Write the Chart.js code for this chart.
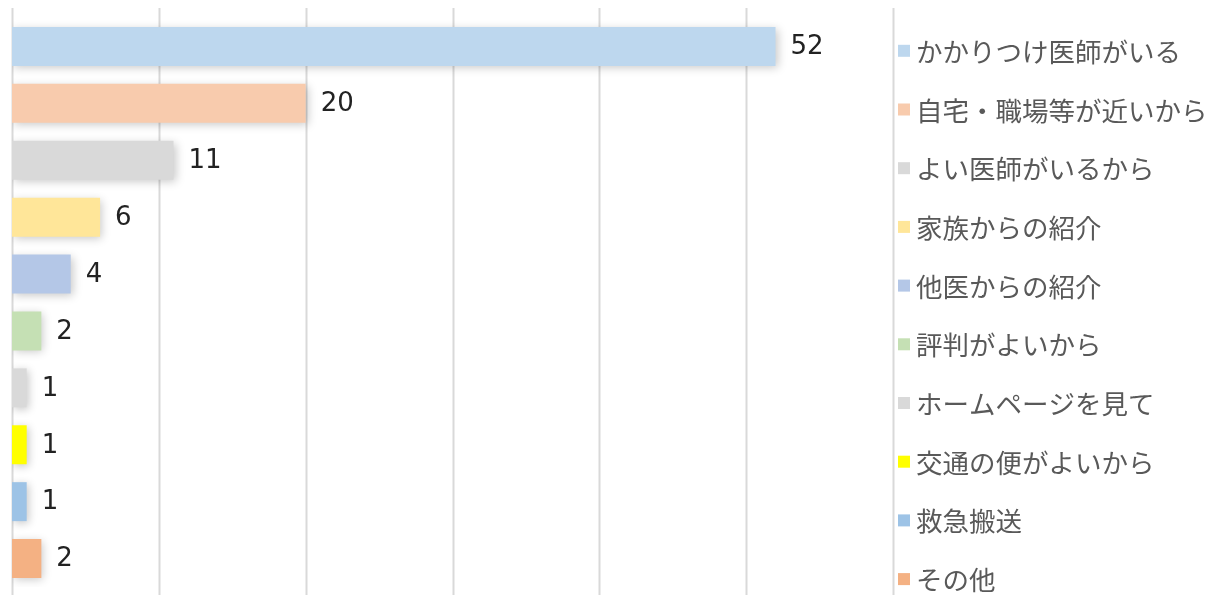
<!DOCTYPE html>
<html>
<head>
<meta charset="utf-8">
<script src="https://cdn.jsdelivr.net/npm/chart.js@4/dist/chart.umd.min.js"></script>
<style>
    html, body { margin: 0; padding: 0; background: #fff; overflow: hidden; }
    #wrap { width: 1209px; height: 595px; }
</style>
</head>
<body>
<div id="wrap"><canvas id="reasonChart" width="1209" height="595"></canvas></div>
<script>
const categories = ['かかりつけ医師がいる', '自宅・職場等が近いから', 'よい医師がいるから', '家族からの紹介', '他医からの紹介',
    '評判がよいから', 'ホームページを見て', '交通の便がよいから', '救急搬送', 'その他']
const counts = [52, 20, 11, 6, 4, 2, 1, 1, 1, 2]
const barColors = ['#BDD7EE', '#F8CBAD', '#D9D9D9', '#FFE699', '#B4C7E7', '#C5E0B4', '#D9D9D9', '#FFFF00', '#9DC3E6', '#F4B183']
const xMin = 0
const xMax = 60
const xStep = 10

document.addEventListener("DOMContentLoaded", function() {
    const ctx = document.getElementById("reasonChart")

    // vertical grid lines, a bit taller than the plot area like the original
    const gridLines = {
        id: 'gridLines',
        beforeDatasetsDraw(chart) {
            const { ctx, scales: { x } } = chart
            ctx.save()
            ctx.strokeStyle = '#D9D9D9'
            ctx.lineWidth = 2
            x.ticks.forEach(t => {
                const px = Math.round(x.getPixelForValue(t.value)) + 0.5
                ctx.beginPath()
                ctx.moveTo(px, 8)
                ctx.lineTo(px, 595)
                ctx.stroke()
            })
            ctx.restore()
        }
    }

    const barShadow = {
        id: 'barShadow',
        beforeDatasetDraw(chart) {
            const c = chart.ctx
            c.save()
            c.shadowColor = 'rgba(0, 0, 0, 0.22)'
            c.shadowBlur = 9
            c.shadowOffsetX = 2
            c.shadowOffsetY = 2
        },
        afterDatasetDraw(chart) {
            chart.ctx.restore()
        }
    }

    const valueLabels = {
        id: 'valueLabels',
        afterDatasetsDraw(chart) {
            const { ctx } = chart
            const meta = chart.getDatasetMeta(0)
            ctx.save()
            ctx.fillStyle = '#222222'
            ctx.font = "26px 'DejaVu Sans', sans-serif"
            ctx.textAlign = 'left'
            ctx.textBaseline = 'middle'
            meta.data.forEach((bar, i) => {
                ctx.fillText(String(counts[i]), bar.x + 15, bar.y + 1)
            })
            ctx.restore()
        }
    }

    const sideLegend = {
        id: 'sideLegend',
        afterDraw(chart) {
            const { ctx } = chart
            const left = 898
            const top = 50.8
            const step = 58.7
            const box = 12
            ctx.save()
            ctx.font = "26.5px 'Noto Sans CJK JP', sans-serif"
            ctx.textAlign = 'left'
            ctx.textBaseline = 'middle'
            chart.data.labels.forEach((label, i) => {
                const cy = top + i * step
                ctx.fillStyle = barColors[i]
                ctx.fillRect(left, cy - box / 2, box, box)
                ctx.fillStyle = '#595959'
                ctx.fillText(label, left + 18, cy + 1)
            })
            ctx.restore()
        }
    }

    const data = {
        labels: categories,
        datasets: [
            {
                label: '件数',
                data: counts,
                backgroundColor: barColors,
                borderWidth: 0,
                categoryPercentage: 1,
                barPercentage: 0.685,
            }
        ]
    }

    const config = {
        type: 'bar',
        data: data,
        options: {
            indexAxis: 'y',
            responsive: false,
            devicePixelRatio: 1,
            animation: false,
            layout: {
                padding: { left: 12, top: 18, right: 316, bottom: 8 }
            },
            scales: {
                x: {
                    min: xMin,
                    max: xMax,
                    ticks: { display: false, stepSize: xStep },
                    grid: { display: false, drawTicks: false },
                    border: { display: false }
                },
                y: {
                    display: false
                }
            },
            plugins: {
                legend: { display: false },
                tooltip: { enabled: false }
            }
        },
        plugins: [gridLines, barShadow, valueLabels, sideLegend]
    }

    new Chart(ctx, config)
});
</script>
</body>
</html>
